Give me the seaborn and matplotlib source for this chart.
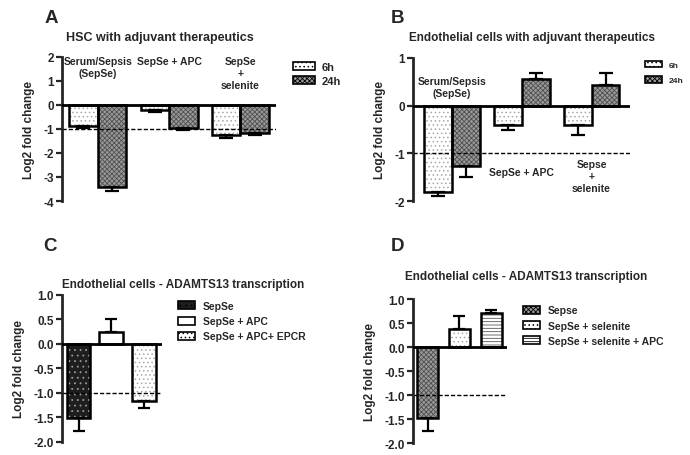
import numpy as np
import pandas as pd
import seaborn as sns
import matplotlib.pyplot as plt
from matplotlib.patches import Patch, Rectangle

# panel A - HSC
a_groups = ["Serum/Sepsis\n(SepSe)", "SepSe + APC", "SepSe\n+\nselenite"]
a_6h = [-0.88, -0.20, -1.27]
a_6h_err = [0.07, 0.08, 0.11]
a_24h = [-3.42, -0.94, -1.17]
a_24h_err = [0.16, 0.10, 0.10]

# panel B - endothelial cells
b_groups = ["Serum/Sepsis\n(SepSe)", "SepSe + APC", "Sepse\n+\nselenite"]
b_6h = [-1.81, -0.41, -0.41]
b_6h_err = [0.09, 0.10, 0.20]
b_24h = [-1.26, 0.55, 0.44]
b_24h_err = [0.24, 0.14, 0.25]

# panel C - ADAMTS13
c_groups = ["SepSe", "SepSe + APC", "SepSe + APC+ EPCR"]
c_vals = [-1.51, 0.25, -1.17]
c_err = [0.26, 0.26, 0.15]

# panel D - ADAMTS13
d_groups = ["Sepse", "SepSe + selenite", "SepSe + selenite + APC"]
d_vals = [-1.47, 0.37, 0.70]
d_err = [0.27, 0.28, 0.08]

sns.set_style("ticks")
plt.rcParams['font.family'] = ['Liberation Sans', 'DejaVu Sans']
plt.rcParams['font.weight'] = 'bold'
plt.rcParams['hatch.linewidth'] = 0.6

# fill styles: (facecolor, hatch, hatch colour)
DOTS = ("white", "....", "#a8a8a8")
CHECK = ("#9a9a9a", "xxxxxxx", "#505050")
DARK = ("#1e1e1e", "...", "#9a9a9a")
PLAIN = ("white", "", "white")
LINES = ("white", "-----", "#555555")


def style_bar(ax, bar, style):
    fc, hatch, hc = style
    bar.set_facecolor(fc)
    bar.set_hatch(hatch)
    bar.set_edgecolor(hc)
    bar.set_linewidth(0)
    ax.add_patch(Rectangle((bar.get_x(), bar.get_y()), bar.get_width(), bar.get_height(),
                           fill=False, ec="black", lw=1.8, zorder=3))


def add_err(ax, bars, vals, errs, cap):
    xs = [b.get_x() + b.get_width() / 2 for b in bars]
    vals = np.array(vals)
    errs = np.array(errs)
    lower = np.where(vals < 0, errs, 0)
    upper = np.where(vals >= 0, errs, 0)
    ax.errorbar(xs, vals, yerr=[lower, upper], fmt="none", ecolor="black",
                elinewidth=1.6, capsize=cap, capthick=1.6, zorder=4)


def frame(ax, ylim, ticks, fmt):
    ax.set_ylim(*ylim)
    ax.set_yticks(ticks)
    ax.set_yticklabels([fmt.format(t) for t in ticks], fontsize=8.5, fontweight="bold")
    sns.despine(ax=ax, bottom=True)
    ax.spines["left"].set_linewidth(2)
    ax.tick_params(axis="y", width=1.6, length=4, pad=2)
    ax.tick_params(axis="x", length=0, labelbottom=False)
    ax.set_xlabel("")
    ax.set_ylabel("Log2 fold change", fontsize=8.5, fontweight="bold", labelpad=6)
    ax.axhline(0, color="black", lw=2, zorder=5)
    ax.axhline(-1, color="black", lw=1, ls=(0, (3, 1.5)), zorder=2)


fig = plt.figure(figsize=(6.9, 4.56), dpi=100)

# ---- A / B grouped panels
for label, box, groups, v6, e6, v24, e24, ylim, ticks, lim in [
    ("A", [0.090, 0.557, 0.310, 0.316], a_groups, a_6h, a_6h_err, a_24h, a_24h_err,
     (-4, 2), [2, 1, 0, -1, -2, -3, -4], (-0.5, 2.5)),
    ("B", [0.599, 0.557, 0.314, 0.314], b_groups, b_6h, b_6h_err, b_24h, b_24h_err,
     (-2, 1), [1, 0, -1, -2], (-0.55, 2.55)),
]:
    ax = fig.add_axes(box)
    df = pd.DataFrame({
        "group": list(groups) * 2,
        "time": ["6h"] * 3 + ["24h"] * 3,
        "value": list(v6) + list(v24),
    })
    sns.barplot(data=df, x="group", y="value", hue="time", ax=ax, legend=False,
                errorbar=None, width=0.8)
    for bars, st, vals, errs in zip(ax.containers, [DOTS, CHECK], [v6, v24], [e6, e24]):
        for bar in bars:
            style_bar(ax, bar, st)
        add_err(ax, bars, vals, errs, 5)
    frame(ax, ylim, ticks, "{:d}")
    ax.set_xlim(*lim)
    if label == "A":
        for i, g in enumerate(groups):
            ax.text(i, 2.05, g, ha="center", va="top", fontsize=7.5, fontweight="bold",
                    linespacing=1.25)
    else:
        ax.text(0, 0.38, groups[0], ha="center", va="center", fontsize=7.5,
                fontweight="bold", linespacing=1.25)
        ax.text(1, -1.39, groups[1], ha="center", va="center", fontsize=7.5,
                fontweight="bold")
        ax.text(2, -1.47, groups[2], ha="center", va="center", fontsize=7.5,
                fontweight="bold", linespacing=1.25)

fig.text(0.065, 0.96, "A", fontsize=13.5, fontweight="bold", va="center")
fig.text(0.567, 0.96, "B", fontsize=13.5, fontweight="bold", va="center")
fig.text(0.232, 0.917, "HSC with adjuvant therapeutics", ha="center", va="center",
         fontsize=9, fontweight="bold")
fig.text(0.771, 0.917, "Endothelial cells with adjuvant therapeutics", ha="center",
         va="center", fontsize=8.5, fontweight="bold")

hA = [Patch(fc=s[0], hatch=s[1], ec="black", lw=1.2) for s in (DOTS, CHECK)]
fig.legend(hA, ["6h", "24h"], loc="upper left", bbox_to_anchor=(0.418, 0.872),
           frameon=False, fontsize=8, handlelength=2.0, handleheight=0.8,
           labelspacing=0.35, handletextpad=0.6, borderaxespad=0)
fig.legend(hA, ["6h", "24h"], loc="upper left", bbox_to_anchor=(0.930, 0.872),
           frameon=False, fontsize=6, handlelength=2.0, handleheight=0.8,
           labelspacing=0.9, handletextpad=0.8, borderaxespad=0)

# ---- C / D single panels
for label, box, groups, vals, errs, styles, width, lim, leg_anchor, title_xy, title in [
    ("C", [0.090, 0.029, 0.145, 0.322], c_groups, c_vals, c_err, [DARK, PLAIN, DOTS],
     0.72, (-0.5, 2.55), (0.252, 0.347), (0.266, 0.375),
     "Endothelial cells - ADAMTS13 transcription"),
    ("D", [0.599, 0.026, 0.136, 0.316], d_groups, d_vals, d_err, [CHECK, DOTS, LINES],
     0.66, (-0.45, 2.5), (0.752, 0.337), (0.762, 0.393),
     "Endothelial cells - ADAMTS13 transcription"),
]:
    ax = fig.add_axes(box)
    df = pd.DataFrame({"group": groups, "value": vals})
    sns.barplot(data=df, x="group", y="value", ax=ax, errorbar=None, width=width,
                color="white")
    bars = list(ax.containers[0])
    for bar, st in zip(bars, styles):
        style_bar(ax, bar, st)
    add_err(ax, bars, vals, errs, 4)
    ticks = [1.0, 0.5, 0.0, -0.5, -1.0, -1.5, -2.0]
    frame(ax, (-2, 1), ticks, "{:.1f}")
    ax.set_xlim(*lim)
    fig.text(title_xy[0], title_xy[1], title, ha="center", va="center", fontsize=8.5,
             fontweight="bold")
    handles = [Patch(fc=s[0], hatch=s[1], ec="black", lw=1.2) for s in styles]
    fig.legend(handles, groups, loc="upper left", bbox_to_anchor=leg_anchor,
               frameon=False, fontsize=7.5, handlelength=1.6, handleheight=0.8,
               labelspacing=0.5, handletextpad=0.8, borderaxespad=0)

fig.text(0.062, 0.46, "C", fontsize=13.5, fontweight="bold", va="center")
fig.text(0.567, 0.46, "D", fontsize=13.5, fontweight="bold", va="center")

fig.savefig("out.png", dpi=100)
